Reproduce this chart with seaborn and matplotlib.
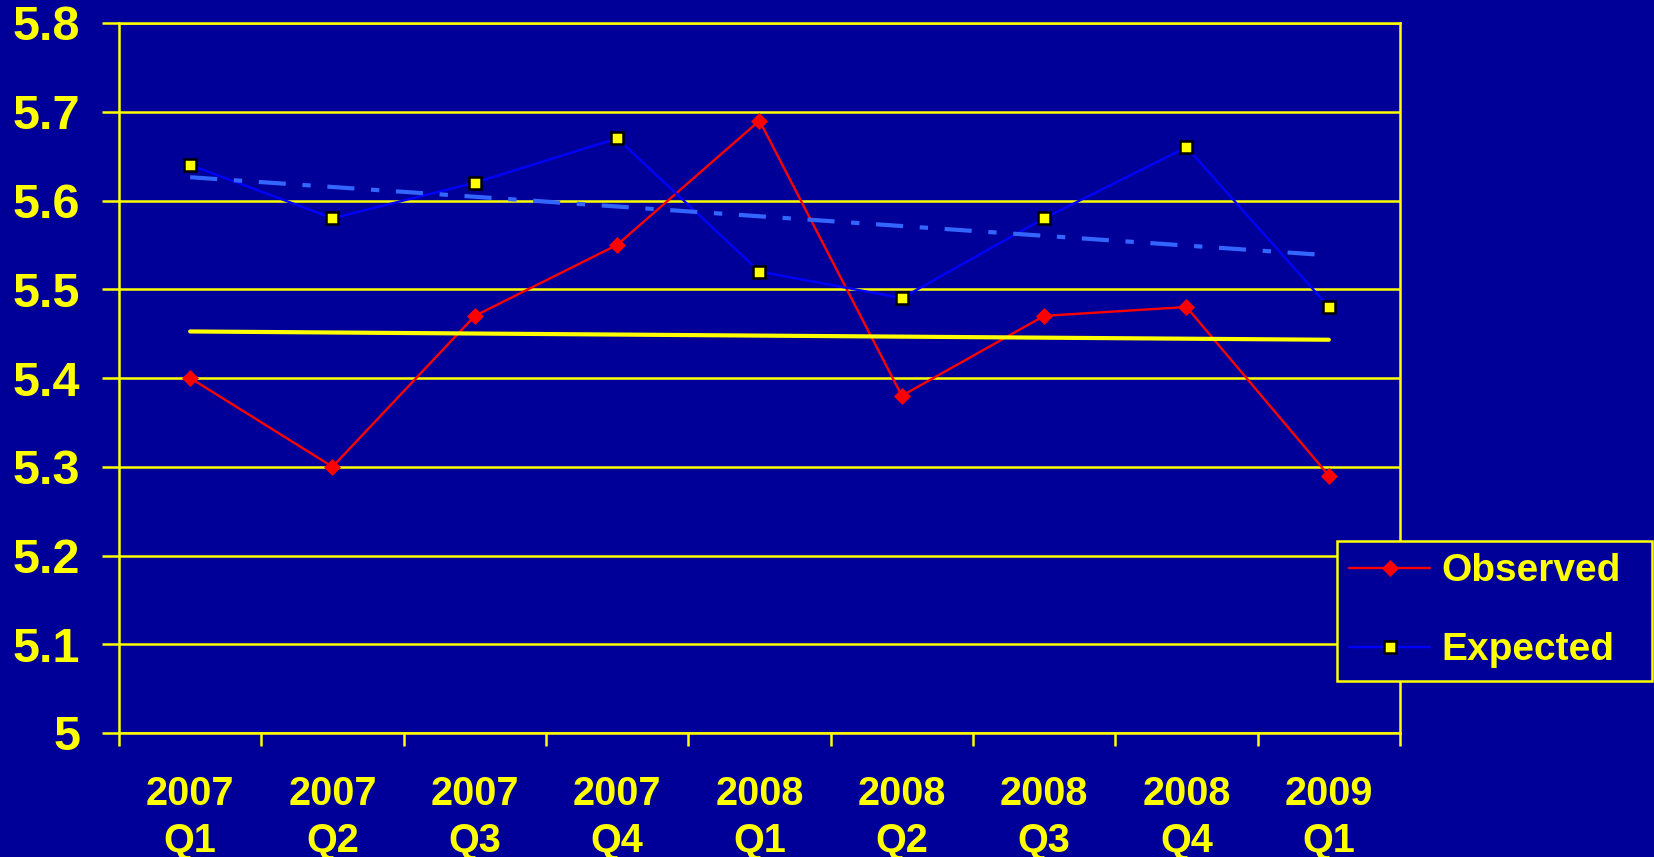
import numpy as np
import pandas as pd
import matplotlib
matplotlib.use("Agg")
import matplotlib.pyplot as plt
from matplotlib.lines import Line2D
from matplotlib.ticker import FixedLocator, FuncFormatter
import seaborn as sns

# Quarterly values
quarters = ["2007\nQ1", "2007\nQ2", "2007\nQ3", "2007\nQ4", "2008\nQ1",
            "2008\nQ2", "2008\nQ3", "2008\nQ4", "2009\nQ1"]
observed = [5.40, 5.30, 5.47, 5.55, 5.69, 5.38, 5.47, 5.48, 5.29]
expected = [5.64, 5.58, 5.62, 5.67, 5.52, 5.49, 5.58, 5.66, 5.48]
y_ticks = [5.0, 5.1, 5.2, 5.3, 5.4, 5.5, 5.6, 5.7, 5.8]

BG = "#000099"
YELLOW = "#FFFF00"

sns.set_theme(style="white")
plt.rcParams["font.family"] = ["Liberation Sans", "DejaVu Sans"]
plt.rcParams["font.weight"] = "bold"
plt.rcParams["lines.scale_dashes"] = False

df = pd.DataFrame({"pos": np.arange(len(quarters)),
                   "Observed": observed,
                   "Expected": expected})

obs_style = dict(color="#FF0000", lw=1.7, marker="D", markersize=8.5,
                 markeredgecolor="#FF0000", markeredgewidth=0.5)
exp_style = dict(color="#0000FF", lw=1.7, marker="s", markersize=8,
                 markerfacecolor=YELLOW, markeredgecolor="black",
                 markeredgewidth=1.8)

fig = plt.figure(figsize=(16.54, 8.57), dpi=100, facecolor=BG)
ax = fig.add_axes([119 / 1654, 1 - 733 / 857, (1400 - 119) / 1654, (733 - 23) / 857])
ax.set_facecolor(BG)

# Data series
sns.lineplot(data=df, x="pos", y="Observed", ax=ax, zorder=3, **obs_style)
sns.lineplot(data=df, x="pos", y="Expected", ax=ax, zorder=3, **exp_style)

# Linear trend lines
sns.regplot(data=df, x="pos", y="Observed", ax=ax, scatter=False, ci=None,
            truncate=True, color=YELLOW, line_kws=dict(lw=3.0, zorder=4))
sns.regplot(data=df, x="pos", y="Expected", ax=ax, scatter=False, ci=None,
            truncate=True, color="#3366FF",
            line_kws=dict(lw=3.0, zorder=4, dashes=(19.5, 12, 6, 12)))

ax.set_xlim(-0.5, len(quarters) - 0.5)
ax.set_ylim(5.0, 5.8)
ax.set_xlabel("")
ax.set_ylabel("")

# Axes styling
for side in ["left", "right", "bottom", "top"]:
    ax.spines[side].set_visible(True)
    ax.spines[side].set_color(YELLOW)
    ax.spines[side].set_linewidth(1.8)

ax.yaxis.set_major_locator(FixedLocator(y_ticks))
ax.yaxis.set_major_formatter(FuncFormatter(lambda v, _: f"{v:g}"))
ax.grid(axis="y", color=YELLOW, lw=1.8)
ax.grid(axis="x", visible=False)
ax.set_axisbelow(True)
ax.tick_params(axis="y", which="major", direction="out", length=12, width=1.8,
               color=YELLOW, labelcolor=YELLOW, labelsize=35, pad=16, left=True)

ax.xaxis.set_major_locator(FixedLocator(df["pos"].tolist()))
ax.set_xticklabels(quarters)
ax.xaxis.set_minor_locator(FixedLocator(np.arange(len(quarters) + 1) - 0.5))
ax.tick_params(axis="x", which="major", length=0, labelcolor=YELLOW,
               labelsize=28.5, pad=30)
ax.tick_params(axis="x", which="minor", direction="out", length=9, width=1.8,
               color=YELLOW, bottom=True)
for lab in ax.get_xticklabels() + ax.get_yticklabels():
    lab.set_fontweight("bold")
    lab.set_linespacing(1.3)

# Legend
handles = [Line2D([], [], **obs_style), Line2D([], [], **exp_style)]
leg = fig.legend(handles, ["Observed", "Expected"], loc="upper left",
                 bbox_to_anchor=(1337 / 1654, 1 - 682 / 857, 315 / 1654, 141 / 857),
                 mode="expand", borderaxespad=0,
                 frameon=True, fancybox=False, shadow=False, numpoints=1,
                 prop=dict(family="Liberation Sans", weight="bold", size=28),
                 handlelength=2.07, handletextpad=0.3, borderpad=0.32,
                 labelspacing=1.1, labelcolor=YELLOW)
leg.get_frame().set_facecolor(BG)
leg.get_frame().set_edgecolor(YELLOW)
leg.get_frame().set_linewidth(1.8)
leg.get_frame().set_alpha(1)

fig.savefig("out.png", dpi=100, facecolor=BG)
